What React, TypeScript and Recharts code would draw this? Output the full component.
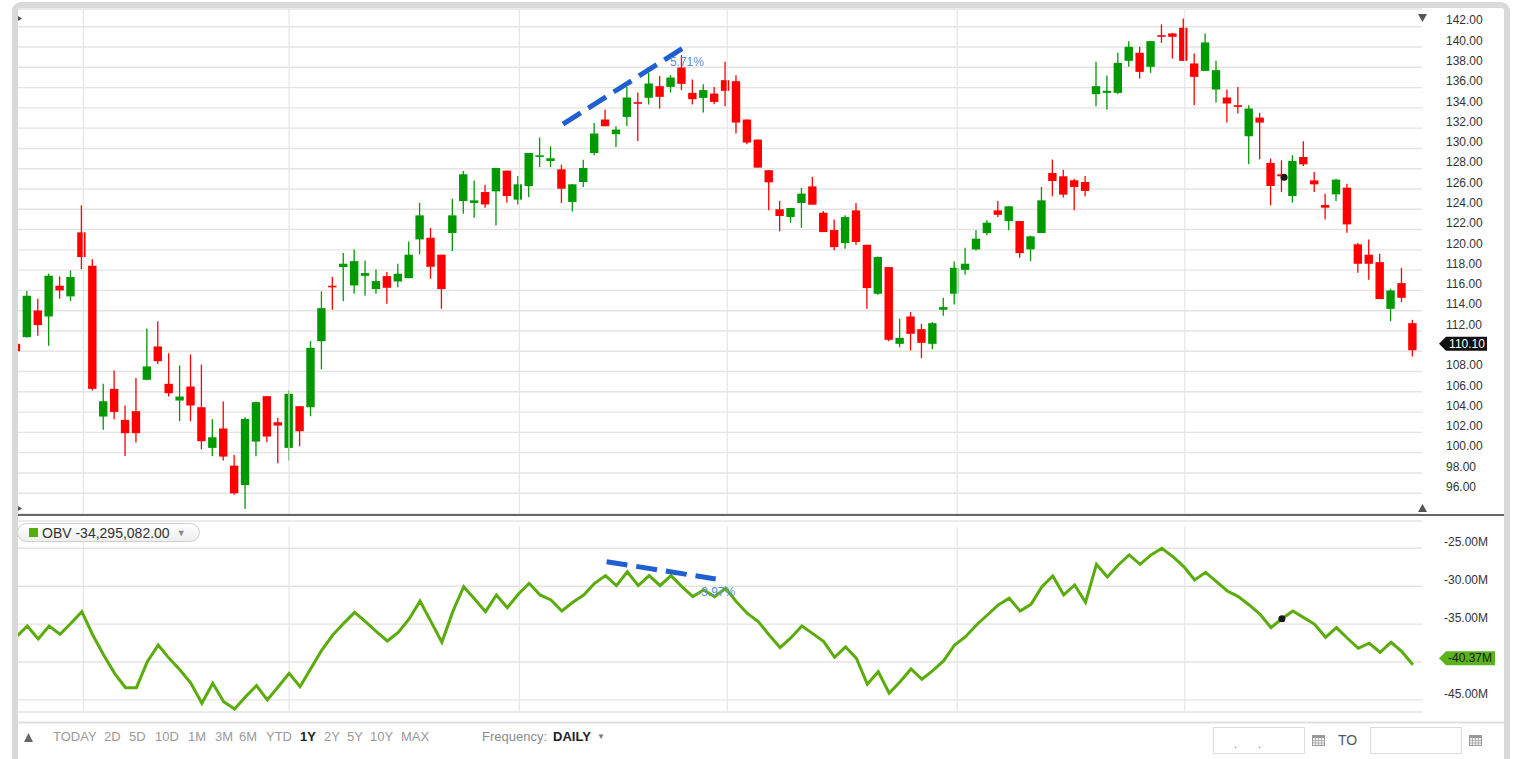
import React from 'react';
import {
  ComposedChart,
  Bar,
  Line,
  XAxis,
  YAxis,
  CartesianGrid,
  ReferenceLine,
  ReferenceDot,
} from 'recharts';

// ---- data ----
const open = [
  110.73, 111.39, 114.02, 113.43, 116.46, 115.41, 121.72, 118.43, 103.56, 106.29,
  103.23, 104.09, 107.18, 110.47, 106.79, 105.14, 106.52, 104.48, 100.47, 102.38,
  98.72, 96.81, 101.09, 105.57, 103.0, 100.47, 104.58, 104.48, 110.99, 116.46,
  118.3, 116.49, 117.44, 116.13, 117.41, 116.88, 117.21, 121.03, 121.19, 119.52,
  121.66, 124.81, 124.62, 125.7, 125.77, 127.81, 124.95, 126.29, 129.16, 128.76,
  127.94, 124.72, 126.69, 129.55, 132.85, 131.4, 133.11, 134.56, 134.99, 136.14,
  136.07, 137.98, 135.48, 134.99, 135.41, 136.73, 136.63, 132.85, 130.87, 127.85,
  124.0, 123.24, 124.62, 126.26, 123.66, 121.95, 120.67, 123.89, 120.5, 115.67,
  118.3, 110.73, 113.43, 112.18, 110.73, 114.09, 115.67, 118.03, 120.04, 121.65,
  123.89, 122.84, 122.84, 120.05, 121.66, 127.58, 127.25, 126.86, 126.69, 135.35,
  135.48, 135.48, 138.64, 139.43, 138.05, 141.17, 141.34, 141.9, 138.38, 137.65,
  135.81, 135.02, 134.26, 131.2, 133.04, 128.57, 127.45, 125.31, 129.15, 126.85,
  124.42, 125.47, 126.13, 120.54, 119.52, 118.79, 114.18, 116.72, 112.77,
];

const close = [
  110.01, 115.47, 112.58, 117.45, 116.0, 117.32, 119.29, 106.29, 105.07, 104.02,
  101.92, 101.92, 108.5, 109.02, 105.86, 105.53, 104.65, 101.13, 101.52, 99.61,
  95.99, 103.33, 104.98, 101.59, 102.67, 105.8, 102.11, 110.34, 114.25, 116.36,
  118.63, 118.89, 117.71, 116.92, 116.26, 117.64, 119.52, 123.4, 118.33, 116.13,
  123.4, 127.45, 124.88, 124.48, 128.07, 125.31, 126.46, 129.55, 129.32, 129.03,
  126.03, 126.46, 128.07, 131.47, 132.19, 131.86, 135.02, 134.43, 136.4, 135.09,
  136.99, 136.37, 134.86, 135.75, 134.59, 135.68, 132.55, 130.58, 128.11, 126.66,
  123.34, 124.13, 125.54, 124.45, 121.75, 120.27, 123.23, 120.77, 116.23, 119.29,
  111.13, 111.32, 111.72, 110.83, 112.77, 114.35, 118.23, 118.63, 121.1, 122.68,
  123.46, 124.29, 119.68, 121.33, 124.88, 126.79, 125.44, 126.2, 125.81, 136.14,
  135.68, 138.44, 140.02, 137.55, 140.58, 141.01, 141.01, 138.64, 137.06, 140.45,
  137.72, 134.43, 134.1, 133.93, 132.55, 126.3, 127.25, 128.77, 128.43, 126.46,
  124.16, 126.92, 122.51, 118.63, 118.63, 115.14, 115.99, 115.27, 110.1,
];

const high = [
  110.9, 115.93, 115.18, 117.65, 117.38, 117.97, 124.39, 119.06, 106.79, 108.1,
  104.65, 107.35, 112.25, 112.97, 109.81, 108.6, 109.68, 108.69, 103.3, 105.04,
  99.78, 103.49, 105.04, 105.57, 103.43, 106.13, 104.58, 111.0, 115.9, 117.31,
  119.68, 120.04, 118.96, 118.07, 117.81, 118.63, 120.83, 124.62, 122.15, 119.52,
  125.04, 127.78, 126.85, 126.43, 128.1, 127.81, 127.28, 129.55, 131.07, 130.21,
  128.4, 126.46, 128.89, 132.52, 133.84, 132.19, 136.07, 135.51, 137.45, 137.13,
  137.23, 139.2, 136.8, 136.34, 136.07, 138.54, 137.22, 132.85, 130.87, 127.85,
  124.82, 124.13, 126.1, 127.18, 123.83, 123.0, 123.4, 124.62, 120.5, 119.35,
  118.3, 113.2, 113.86, 112.7, 112.87, 115.27, 118.86, 120.21, 121.92, 122.91,
  124.81, 124.29, 122.84, 121.4, 126.2, 128.9, 127.91, 127.02, 127.29, 138.55,
  137.19, 139.43, 140.58, 140.02, 140.58, 142.23, 141.4, 142.82, 139.36, 141.34,
  138.64, 135.81, 136.07, 134.26, 133.51, 129.0, 128.83, 129.33, 130.7, 127.68,
  125.54, 127.02, 126.52, 120.67, 121.03, 119.62, 116.16, 118.23, 113.1,
];

const low = [
  109.9, 111.35, 111.52, 110.54, 115.18, 114.95, 118.1, 106.13, 102.25, 103.3,
  99.68, 100.99, 107.15, 108.75, 105.53, 103.1, 103.1, 100.34, 99.68, 99.22,
  95.86, 94.45, 99.64, 101.03, 98.95, 99.22, 100.63, 103.59, 108.23, 114.09,
  114.94, 115.67, 115.47, 115.67, 114.68, 116.32, 117.21, 119.55, 117.15, 114.19,
  119.88, 123.56, 123.17, 124.15, 122.41, 124.65, 124.48, 125.21, 128.17, 128.17,
  124.62, 123.79, 126.2, 129.33, 132.19, 130.15, 132.22, 130.74, 134.33, 133.93,
  135.51, 135.75, 134.33, 133.54, 134.36, 134.16, 131.47, 130.41, 128.11, 123.9,
  121.83, 122.68, 122.18, 124.45, 121.75, 119.95, 120.11, 120.5, 114.19, 115.57,
  110.99, 110.4, 110.07, 109.32, 110.2, 113.49, 114.61, 117.54, 119.94, 121.43,
  123.23, 121.92, 119.22, 118.9, 121.66, 125.28, 125.15, 123.9, 125.28, 134.16,
  133.83, 135.35, 138.05, 136.89, 137.45, 140.41, 138.87, 138.64, 134.26, 137.65,
  134.53, 132.55, 133.44, 128.44, 128.93, 124.39, 125.71, 124.65, 128.27, 125.7,
  123.0, 124.81, 121.69, 117.74, 117.05, 115.14, 112.97, 114.84, 109.48,
];

// on balance volume, millions
const obv = [
  -36.66, -35.25, -36.97, -35.25, -36.35, -34.9, -33.36, -36.44, -39.08, -41.5,
  -43.39, -43.39, -39.96, -37.76, -39.52, -41.06, -42.82, -45.45, -42.82, -45.24,
  -46.2, -44.58, -43.12, -45.0, -43.26, -41.5, -43.26, -40.84, -38.42, -36.44,
  -34.9, -33.45, -34.68, -36.0, -37.23, -36.09, -34.33, -31.95, -34.68, -37.4,
  -33.36, -30.06, -31.69, -33.36, -31.16, -32.84, -31.07, -29.62, -31.16, -31.82,
  -33.27, -32.12, -31.16, -29.62, -28.61, -29.93, -28.09, -29.93, -28.61, -29.93,
  -28.61, -30.06, -31.38, -30.5, -31.38, -30.28, -32.04, -33.6, -34.68, -36.44,
  -38.1, -36.8, -35.25, -36.26, -37.32, -39.38, -38.02, -39.52, -42.94, -41.28,
  -44.13, -42.6, -40.92, -42.28, -41.15, -39.83, -37.76, -36.66, -35.12, -33.8,
  -32.48, -31.6, -33.27, -32.39, -30.06, -28.65, -31.16, -29.84, -32.12, -27.11,
  -28.78, -27.2, -25.88, -27.11, -25.88, -25.0, -26.1, -27.42, -29.18, -28.17,
  -29.4, -30.63, -31.38, -32.48, -33.71, -35.47, -34.3, -33.27, -34.15, -35.03,
  -36.74, -35.47, -36.87, -38.2, -37.53, -38.72, -37.4, -38.64, -40.37,
];

const priceTicks = [96, 98, 100, 102, 104, 106, 108, 110, 112, 114, 116, 118, 120, 122, 124, 126, 128, 130, 132, 134, 136, 138, 140, 142];
const obvTicks = [-45, -40, -35, -30, -25];
// month boundaries (position in trading days)
const monthLines = [6.13, 24.99, 46.1, 65.16, 86.24, 107.1];

const priceTrend = [{ x: 50.1, y: 132.4 }, { x: 61.07, y: 139.87 }];
const obvTrend = [{ x: 54.1, y: -26.77 }, { x: 64.1, y: -29.05 }];
const hoverIndex = 116;
const hoverPrice = 127.15;

const ranges = [
  ['TODAY', 53], ['2D', 104], ['5D', 129], ['10D', 155], ['1M', 188], ['3M', 215],
  ['6M', 239], ['YTD', 266], ['1Y', 300], ['2Y', 324], ['5Y', 347], ['10Y', 370], ['MAX', 401],
];

const chartData = open.map((o, i) => ({
  i,
  open: o,
  high: high[i],
  low: low[i],
  close: close[i],
  obv: obv[i],
}));

const lastClose = close[close.length - 1];
const lastObv = obv[obv.length - 1];

const FONT = '"Liberation Sans", Arial, sans-serif';
const UP = '#009a00';
const DOWN = '#ff0000';
const OBV_GREEN = '#5aac0a';
const GRID = '#e4e4e4';
const X_DOMAIN = [0.147, 128.84];

const Candle = (props: any) => {
  const { x, y, width, height, payload } = props;
  if (!payload || x == null) return null;
  const { open: o, close: c, high: h, low: l } = payload;
  const color = c >= o ? UP : DOWN;
  const cx = x + width / 2;
  const k = h === l ? 0 : height / (h - l);
  const top = y + (h - Math.max(o, c)) * k;
  const bottom = y + (h - Math.min(o, c)) * k;
  return (
    <g>
      <line x1={cx} x2={cx} y1={y} y2={y + height} stroke={color} strokeWidth={1.3} />
      <rect x={cx - 4.2} y={top} width={8.4} height={Math.max(bottom - top, 1.6)} fill={color} />
    </g>
  );
};

const PriceTick = (p: any) => {
  const v = p.payload.value;
  if (Math.abs(v - lastClose) < 1) return <g />;
  return (
    <text x={1446} y={p.y - 6.5} dy="0.35em" fontSize={12} fill="#333" fontFamily={FONT}>
      {v.toFixed(2)}
    </text>
  );
};

const ObvTick = (p: any) => {
  const v = p.payload.value;
  if (Math.abs(v - lastObv) < 1) return <g />;
  return (
    <text x={1444} y={p.y - 6.5} dy="0.35em" fontSize={12} fill="#333" fontFamily={FONT}>
      {v.toFixed(2) + 'M'}
    </text>
  );
};

const PriceTag = (p: any) => {
  const cy = p.cy - 6.5;
  return (
    <g>
      <polygon points={`1439,${cy} 1446,${cy - 7} 1487,${cy - 7} 1487,${cy + 7} 1446,${cy + 7}`} fill="#111" />
      <text x={1467} y={cy} dy="0.35em" textAnchor="middle" fontSize={12} fill="#fff" fontFamily={FONT}>
        {lastClose.toFixed(2)}
      </text>
    </g>
  );
};

const ObvTag = (p: any) => {
  const cy = p.cy - 6.5;
  return (
    <g>
      <polygon points={`1439,${cy} 1446,${cy - 7} 1495,${cy - 7} 1495,${cy + 7} 1446,${cy + 7}`} fill="#5cb21c" />
      <text x={1470} y={cy} dy="0.35em" textAnchor="middle" fontSize={12} fill="#1a1a1a" fontFamily={FONT}>
        {lastObv.toFixed(2) + 'M'}
      </text>
    </g>
  );
};

const makeNote = (txt: string) => (p: any) => (
  <text x={p.cx} y={p.cy} dy="0.35em" fontSize={12} fill="#5b8de0" fontFamily={FONT}>
    {txt}
  </text>
);

const CalIcon = ({ left }: { left: number }) => (
  <svg style={{ position: 'absolute', left, top: 735 }} width={13} height={11}>
    <rect x={0.5} y={0.5} width={12} height={10} fill="#eee" stroke="#999" />
    <rect x={0.5} y={0.5} width={12} height={2.5} fill="#999" />
    {[3.5, 6.5, 9.5].map((vx) => (
      <line key={vx} x1={vx} x2={vx} y1={3} y2={10} stroke="#aaa" strokeWidth={0.8} />
    ))}
    {[5.5, 8].map((vy) => (
      <line key={vy} x1={1} x2={12} y1={vy} y2={vy} stroke="#aaa" strokeWidth={0.8} />
    ))}
  </svg>
);

export default function App() {
  return (
    <div style={{ position: 'absolute', left: 0, top: 0, width: 1519, height: 759, background: '#fff', overflow: 'hidden', fontFamily: FONT }}>
      {/* price panel */}
      <div style={{ position: 'absolute', left: 0, top: 0 }}>
        <ComposedChart width={1519} height={520} data={chartData} margin={{ top: 9, right: 0, bottom: 6, left: 18 }}>
          <CartesianGrid vertical={false} stroke={GRID} strokeWidth={1.4} />
          <XAxis dataKey="i" type="number" domain={X_DOMAIN} allowDataOverflow hide />
          <YAxis
            orientation="right"
            width={97}
            domain={[93.95, 143.75]}
            allowDataOverflow
            ticks={priceTicks}
            interval={0}
            axisLine={false}
            tickLine={false}
            tick={<PriceTick />}
          />
          {monthLines.map((m) => (
            <ReferenceLine key={m} x={m} stroke="#e6e6e6" strokeWidth={1.2} />
          ))}
          <Bar dataKey={(d: any) => [d.low, d.high]} barSize={8} shape={<Candle />} isAnimationActive={false} />
          <ReferenceDot x={59.9} y={138.55} r={0} shape={makeNote('5.71%')} ifOverflow="visible" />
          <ReferenceLine segment={priceTrend} stroke="#1f5fcf" strokeWidth={5} strokeDasharray="21 9" />
          <ReferenceDot x={hoverIndex + 0.2} y={hoverPrice} r={3.5} fill="#1a1a1a" stroke="none" />
          <ReferenceDot x={128} y={lastClose} r={0} shape={<PriceTag />} ifOverflow="visible" />
        </ComposedChart>
      </div>

      {/* OBV panel */}
      <div style={{ position: 'absolute', left: 0, top: 516 }}>
        <ComposedChart width={1519} height={200} data={chartData} margin={{ top: 5, right: 0, bottom: 4, left: 18 }}>
          <CartesianGrid vertical={false} stroke={GRID} strokeWidth={1.4} />
          <XAxis dataKey="i" type="number" domain={X_DOMAIN} allowDataOverflow hide />
          <YAxis
            orientation="right"
            width={97}
            domain={[-46.6, -21.4]}
            allowDataOverflow
            ticks={obvTicks}
            interval={0}
            axisLine={false}
            tickLine={false}
            tick={<ObvTick />}
          />
          {monthLines.map((m) => (
            <ReferenceLine key={m} segment={[{ x: m, y: -22.2 }, { x: m, y: -46.6 }]} stroke="#e6e6e6" strokeWidth={1.2} />
          ))}
          <ReferenceDot x={62.4} y={-30.77} r={0} shape={makeNote('-3.97%')} ifOverflow="visible" />
          <Line dataKey="obv" type="linear" stroke={OBV_GREEN} strokeWidth={3} dot={false} isAnimationActive={false} />
          <ReferenceLine segment={obvTrend} stroke="#1f5fcf" strokeWidth={5} strokeDasharray="21 9" />
          <ReferenceDot x={hoverIndex} y={obv[hoverIndex]} r={3.5} fill="#1a1a1a" stroke="none" />
          <ReferenceDot x={128} y={lastObv} r={0} shape={<ObvTag />} ifOverflow="visible" />
        </ComposedChart>
      </div>

      {/* legend pill */}
      <div
        style={{
          position: 'absolute', left: 17, top: 523, width: 183, height: 19, boxSizing: 'border-box',
          border: '1px solid #cfcfcf', borderRadius: 10, background: 'linear-gradient(#ffffff, #eeeeee)',
          display: 'flex', alignItems: 'center', fontSize: 14, color: '#333', whiteSpace: 'nowrap',
        }}
      >
        <span style={{ display: 'inline-block', width: 9, height: 9, background: OBV_GREEN, marginLeft: 11, marginRight: 4 }} />
        <span>OBV -34,295,082.00</span>
        <span style={{ fontSize: 9, color: '#888', marginLeft: 7 }}>▼</span>
      </div>

      {/* frame, separators and arrows */}
      <svg style={{ position: 'absolute', left: 0, top: 0, pointerEvents: 'none' }} width={1519} height={759}>
        <rect x={15} y={5} width={1492} height={760} rx={6} fill="none" stroke="#d9d9d9" strokeWidth={6} />
        <line x1={18} x2={1504} y1={515} y2={515} stroke="#666" strokeWidth={2} />
        <line x1={18} x2={1504} y1={722.5} y2={722.5} stroke="#e0e0e0" strokeWidth={2} />
        <polygon points="1418,14 1427,14 1422.5,22" fill="#555" />
        <polygon points="1418,512 1427,512 1422.5,504" fill="#555" />
        <polygon points="18,16 22,18.5 18,21" fill="#555" />
        <polygon points="18,506 22,508.5 18,511" fill="#555" />
        <polygon points="24,742 33,742 28.5,733" fill="#666" />
      </svg>

      {/* toolbar */}
      {ranges.map(([label, left]) => (
        <span
          key={label as string}
          style={{
            position: 'absolute', left: left as number, top: 729, fontSize: 13, lineHeight: '16px',
            color: label === '1Y' ? '#222' : '#9a9a9a', fontWeight: label === '1Y' ? 700 : 400,
          }}
        >
          {label}
        </span>
      ))}
      <span style={{ position: 'absolute', left: 482, top: 729, fontSize: 13, lineHeight: '16px', color: '#8a8a8a' }}>Frequency:</span>
      <span style={{ position: 'absolute', left: 553, top: 729, fontSize: 13, lineHeight: '16px', color: '#222', fontWeight: 700 }}>DAILY</span>
      <span style={{ position: 'absolute', left: 597, top: 731, fontSize: 8, lineHeight: '12px', color: '#777' }}>▼</span>

      <div style={{ position: 'absolute', left: 1213, top: 727, width: 92, height: 27, boxSizing: 'border-box', border: '1px solid #dcdcdc', background: '#fff' }}>
        <span style={{ position: 'absolute', left: 20, top: 11, fontSize: 10, color: '#666' }}>.</span>
        <span style={{ position: 'absolute', left: 44, top: 11, fontSize: 10, color: '#666' }}>.</span>
      </div>
      <CalIcon left={1312} />
      <span style={{ position: 'absolute', left: 1338, top: 731, fontSize: 14, lineHeight: '18px', color: '#555' }}>TO</span>
      <div style={{ position: 'absolute', left: 1370, top: 727, width: 92, height: 27, boxSizing: 'border-box', border: '1px solid #dcdcdc', background: '#fff' }} />
      <CalIcon left={1469} />
    </div>
  );
}
